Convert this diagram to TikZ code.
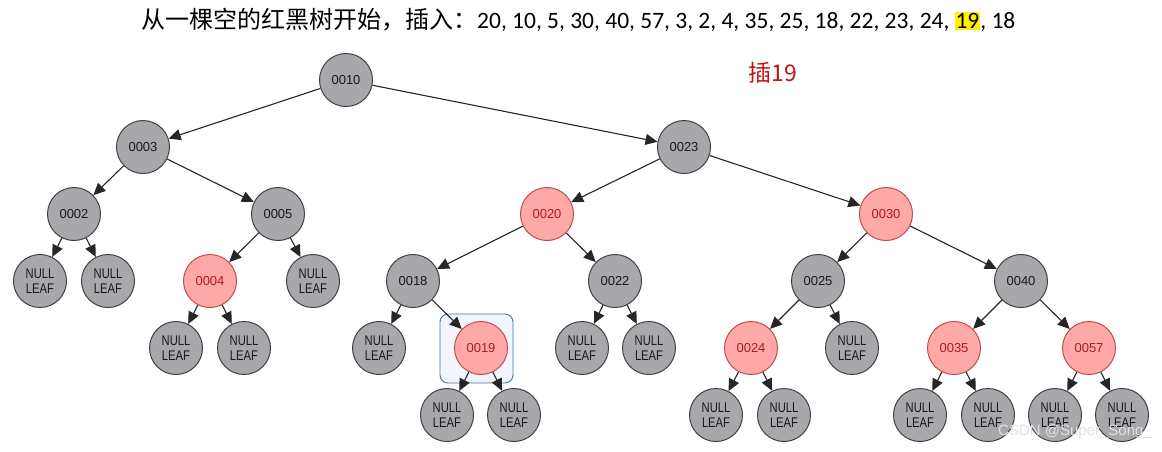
\documentclass[tikz,border=0pt]{standalone}
\usepackage{fontspec}
\setmainfont{Liberation Sans}
\newfontfamily\cjk{Noto Sans CJK SC}
\newfontfamily\numf{Carlito}
\newfontfamily\condf[FakeStretch=0.8]{Liberation Sans}
\usetikzlibrary{arrows.meta}
\definecolor{nodegray}{RGB}{168,168,172}
\definecolor{nodeborder}{RGB}{65,65,65}
\definecolor{redfill}{RGB}{255,168,168}
\definecolor{redborder}{RGB}{195,75,75}
\definecolor{redtext}{RGB}{175,25,35}
\definecolor{titlered}{RGB}{192,20,20}
\definecolor{hlborder}{RGB}{70,120,160}
\definecolor{hlfill}{RGB}{242,246,252}
\definecolor{wmcolor}{RGB}{225,225,228}
\tikzset{
  blk/.style={circle, draw=nodeborder, line width=1pt, fill=nodegray, minimum size=53pt, inner sep=0pt, text=black!90, font=\fontsize{13}{14}\selectfont},
  rednode/.style={blk, draw=redborder, fill=redfill, text=redtext},
  leaf/.style={blk, align=center, font=\condf\fontsize{14}{15}\selectfont},
  edge/.style={line width=1.1pt, draw=black!85, -{Triangle[length=12pt,width=11pt]}},
}
\begin{document}
\begin{tikzpicture}[x=1pt,y=-1pt]
\useasboundingbox (0,0) rectangle (1162,451);
% title
\node[anchor=west, inner sep=0pt] (title) at (141,20) {\cjk\fontsize{24}{26}\selectfont 从一棵空的红黑树开始，插入：\numf\fontsize{23.5}{26}\selectfont 20, 10, 5, 30, 40, 57, 3, 2, 4, 35, 25, 18, 22, 23, 24, {\setlength\fboxsep{1pt}\colorbox{yellow}{19}}, 18};
\node[text=titlered, inner sep=0pt] (ins) at (773,73) {\fontsize{23}{26}\selectfont\cjk 插19};
% highlight box
\node[draw=hlborder, fill=hlfill, rounded corners=8pt, line width=0.9pt, minimum width=73pt, minimum height=69pt, inner sep=0pt] (hl) at (476.5,348.5) {};
% nodes
\node[blk] (n10) at (346,80) {0010};
\node[blk] (n3) at (143,147) {0003};
\node[blk] (n23) at (684,147) {0023};
\node[blk] (n2) at (74,214) {0002};
\node[blk] (n5) at (278,214) {0005};
\node[rednode] (n20) at (547,214) {0020};
\node[rednode] (n30) at (886,214) {0030};
\node[leaf] (l1) at (40,281) {NULL\\LEAF};
\node[leaf] (l2) at (108,281) {NULL\\LEAF};
\node[rednode] (n4) at (210,281) {0004};
\node[leaf] (l3) at (313,281) {NULL\\LEAF};
\node[blk] (n18) at (413,281) {0018};
\node[blk] (n22) at (615,281) {0022};
\node[blk] (n25) at (818,281) {0025};
\node[blk] (n40) at (1021,281) {0040};
\node[leaf] (l4) at (176,348) {NULL\\LEAF};
\node[leaf] (l5) at (244,348) {NULL\\LEAF};
\node[leaf] (l6) at (379,348) {NULL\\LEAF};
\node[rednode] (n19) at (481,348) {0019};
\node[leaf] (l7) at (582,348) {NULL\\LEAF};
\node[leaf] (l8) at (649,348) {NULL\\LEAF};
\node[rednode] (n24) at (751,348) {0024};
\node[leaf] (l9) at (852,348) {NULL\\LEAF};
\node[rednode] (n35) at (954,348) {0035};
\node[rednode] (n57) at (1089,348) {0057};
\node[leaf] (l10) at (447,415) {NULL\\LEAF};
\node[leaf] (l11) at (514,415) {NULL\\LEAF};
\node[leaf] (l12) at (716,415) {NULL\\LEAF};
\node[leaf] (l13) at (784,415) {NULL\\LEAF};
\node[leaf] (l14) at (920,415) {NULL\\LEAF};
\node[leaf] (l15) at (988,415) {NULL\\LEAF};
\node[leaf] (l16) at (1055,415) {NULL\\LEAF};
\node[leaf] (l17) at (1122,415) {NULL\\LEAF};
% edges
\foreach \a/\b in {n10/n3, n10/n23, n3/n2, n3/n5, n23/n20, n23/n30, n2/l1, n2/l2, n5/n4, n5/l3, n20/n18, n20/n22, n30/n25, n30/n40, n4/l4, n4/l5, n18/l6, n18/n19, n22/l7, n22/l8, n25/n24, n25/l9, n40/n35, n40/n57, n19/l10, n19/l11, n24/l12, n24/l13, n35/l14, n35/l15, n57/l16, n57/l17}
  \draw[edge] (\a) -- (\b);
% watermark
\node[text=wmcolor, inner sep=0pt, anchor=east] (wm) at (1152,432) {\fontsize{15}{16}\selectfont CSDN @Super\_Song\_};
\end{tikzpicture}
\end{document}
